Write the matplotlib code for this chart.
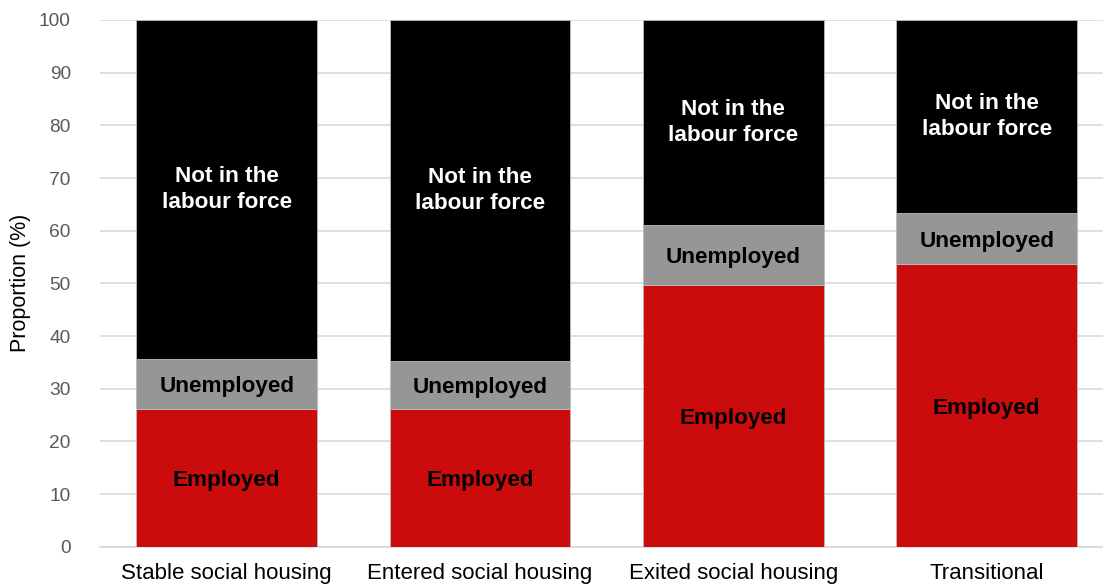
import numpy as np
import matplotlib.pyplot as plt

plt.rcParams['font.family'] = ['Liberation Sans', 'DejaVu Sans']

# data
categories = ['Stable social housing', 'Entered social housing',
              'Exited social housing', 'Transitional']
employed = [26.2, 26.1, 49.6, 53.6]
unemployed = [9.4, 9.1, 11.4, 9.7]
not_in_lf = [100 - e - u for e, u in zip(employed, unemployed)]

segments = [
    ('Employed', employed, '#cc0c0c', 'black'),
    ('Unemployed', unemployed, '#969696', 'black'),
    ('Not in the\nlabour force', not_in_lf, '#000000', 'white'),
]

fig = plt.figure(figsize=(11.03, 5.88), dpi=100)
ax = fig.add_axes([100 / 1103, 1 - 546.7 / 588, 1003 / 1103, 526.7 / 588])

x = np.arange(len(categories))
bottom = np.zeros(len(categories))
for label, vals, color, tcolor in segments:
    vals = np.array(vals)
    ax.bar(x, vals, width=0.714, bottom=bottom, color=color,
           edgecolor='#bbbbbb', linewidth=0.6, zorder=3)
    # two-line labels centre better on the full box, one-liners on the baseline
    va = 'center' if '\n' in label else 'center_baseline'
    for xi, b, v in zip(x, bottom, vals):
        ax.text(xi, b + v / 2, label, ha='center', va=va, color=tcolor,
                fontsize=16.2, fontweight='bold', linespacing=1.3, zorder=4)
    bottom += vals

ax.set_xlim(-0.5, 3.459)
ax.set_ylim(0, 100)
ax.set_yticks(np.arange(0, 101, 10))
ax.set_xticks(x)
ax.set_xticklabels(categories)
ax.yaxis.grid(True, color='#d9d9d9', linewidth=1.2, zorder=0)
ax.set_axisbelow(True)
for s in ['top', 'right', 'left']:
    ax.spines[s].set_visible(False)
ax.spines['bottom'].set_color('#d9d9d9')
ax.spines['bottom'].set_linewidth(1.2)
ax.tick_params(axis='both', length=0, colors='#595959')
ax.tick_params(axis='y', labelsize=13.8, pad=21)
ax.tick_params(axis='x', labelsize=16, pad=12, labelcolor='#000000')
ax.set_ylabel('Proportion (%)', fontsize=15.5, color='#000000', labelpad=6)

fig.savefig('out.png', dpi=100)
